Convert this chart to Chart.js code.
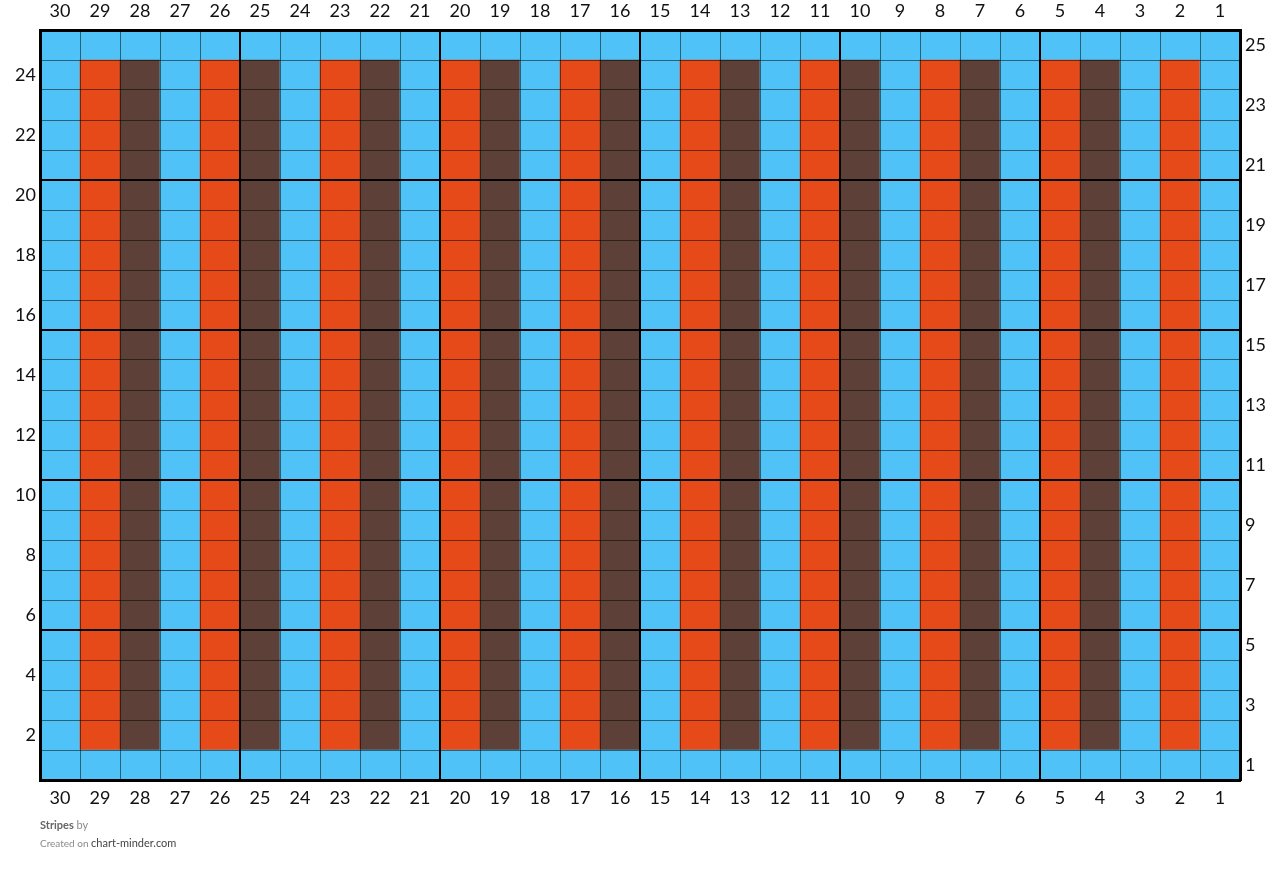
<!DOCTYPE html>
<html>
<head>
<meta charset="utf-8">
<script src="https://cdn.jsdelivr.net/npm/chart.js@4"></script>
<style>
  html, body { margin: 0; padding: 0; background: #fff; }
  #wrap { position: relative; width: 1280px; height: 873px; }
  #credit { position: absolute; left: 40px; top: 816px; font-family: Lato, sans-serif; color: #8a8a8a; }
  #credit .t { font-size: 11px; line-height: 18px; }
  #credit b { color: #666; font-weight: 700; }
  #credit .s { font-size: 10px; line-height: 18px; }
  #credit .s span { color: #444; font-size: 11px; }
</style>
</head>
<body>
<div id="wrap">
  <canvas id="stripesChart" width="1280" height="873"></canvas>
  <div id="credit">
    <div class="t"><b>Stripes</b> by</div>
    <div class="s">Created on <span>chart-minder.com</span></div>
  </div>
</div>
<script>
// ##################### CHART DATA #######################
const columns = [30, 29, 28, 27, 26, 25, 24, 23, 22, 21, 20, 19, 18, 17, 16,
                 15, 14, 13, 12, 11, 10, 9, 8, 7, 6, 5, 4, 3, 2, 1];
const rows = [1, 2, 3, 4, 5, 6, 7, 8, 9, 10, 11, 12, 13, 14, 15, 16, 17, 18, 19, 20, 21, 22, 23, 24, 25];
// yarn in each column (30 -> 1) for the striped rows
const stripeYarn = ['A', 'B', 'C', 'A', 'B', 'C', 'A', 'B', 'C', 'A',
                    'B', 'C', 'A', 'B', 'C', 'A', 'B', 'C', 'A', 'B',
                    'C', 'A', 'B', 'C', 'A', 'B', 'C', 'A', 'B', 'A'];
const plainRows = [1, 25];
const plainYarn = 'A';

const yarnColors = { A: '#4fc3f7', B: '#e64a19', C: '#5d4037' };

const datasets = rows.map(r => ({
    label: 'Row ' + r,
    data: columns.map(() => 1),
    backgroundColor: columns.map((c, i) => yarnColors[plainRows.includes(r) ? plainYarn : stripeYarn[i]]),
    borderWidth: 0,
    barPercentage: 1,
    categoryPercentage: 1,
    stack: 'rows'
}));

const halfTicks = (axis) => {
    const t = [];
    for (let v = 0; v <= rows.length; v += 0.5) t.push({ value: v });
    axis.ticks = t;
};

const labelFont = { family: 'Lato', size: 18 };
const thin = 'rgba(0,0,0,0.5)';
const frame = { color: '#000', width: 3, z: 2 };

const ctx = document.getElementById('stripesChart');
const stripesChart = new Chart(ctx, {
    type: 'bar',
    data: { labels: columns, datasets: datasets },
    options: {
        responsive: false,
        animation: false,
        layout: { padding: { top: 0, bottom: 63, left: 0, right: 0 } },
        plugins: { legend: { display: false }, tooltip: { enabled: false } },
        scales: {
            x: {
                position: 'bottom',
                stacked: true,
                afterFit: s => { s.height = 30; },
                grid: {
                    z: 1,
                    offset: true,
                    drawTicks: false,
                    color: c => c.index % 5 === 0 ? '#000' : thin,
                    lineWidth: c => c.index % 5 === 0 ? 2 : 1
                },
                border: frame,
                ticks: { color: '#111', font: labelFont, padding: 7, autoSkip: false, maxRotation: 0 }
            },
            xTop: {
                type: 'category',
                position: 'top',
                labels: columns,
                afterFit: s => { s.height = 30; },
                grid: { display: false, drawTicks: false },
                border: frame,
                ticks: { color: '#111', font: labelFont, padding: 8, autoSkip: false, maxRotation: 0 }
            },
            y: {
                position: 'left',
                stacked: true,
                min: 0,
                max: rows.length,
                afterBuildTicks: halfTicks,
                afterFit: s => { s.width = 40; },
                grid: {
                    z: 1,
                    drawTicks: false,
                    color: c => !Number.isInteger(c.tick.value) ? 'rgba(0,0,0,0)' : (c.tick.value % 5 === 0 ? '#000' : thin),
                    lineWidth: c => Number.isInteger(c.tick.value) && c.tick.value % 5 === 0 ? 2 : 1
                },
                border: frame,
                ticks: {
                    color: '#111', font: labelFont, padding: 4, autoSkip: false,
                    callback: v => {
                        const r = v + 0.5;
                        return (!Number.isInteger(v) && rows.includes(r) && r % 2 === 0) ? String(r) : '';
                    }
                }
            },
            yRight: {
                type: 'linear',
                position: 'right',
                min: 0,
                max: rows.length,
                afterBuildTicks: halfTicks,
                afterFit: s => { s.width = 40; },
                grid: { display: false, drawTicks: false },
                border: frame,
                ticks: {
                    color: '#111', font: labelFont, padding: 5, autoSkip: false,
                    callback: v => {
                        const r = v + 0.5;
                        return (!Number.isInteger(v) && rows.includes(r) && r % 2 === 1) ? String(r) : '';
                    }
                }
            }
        }
    }
});
</script>
</body>
</html>
